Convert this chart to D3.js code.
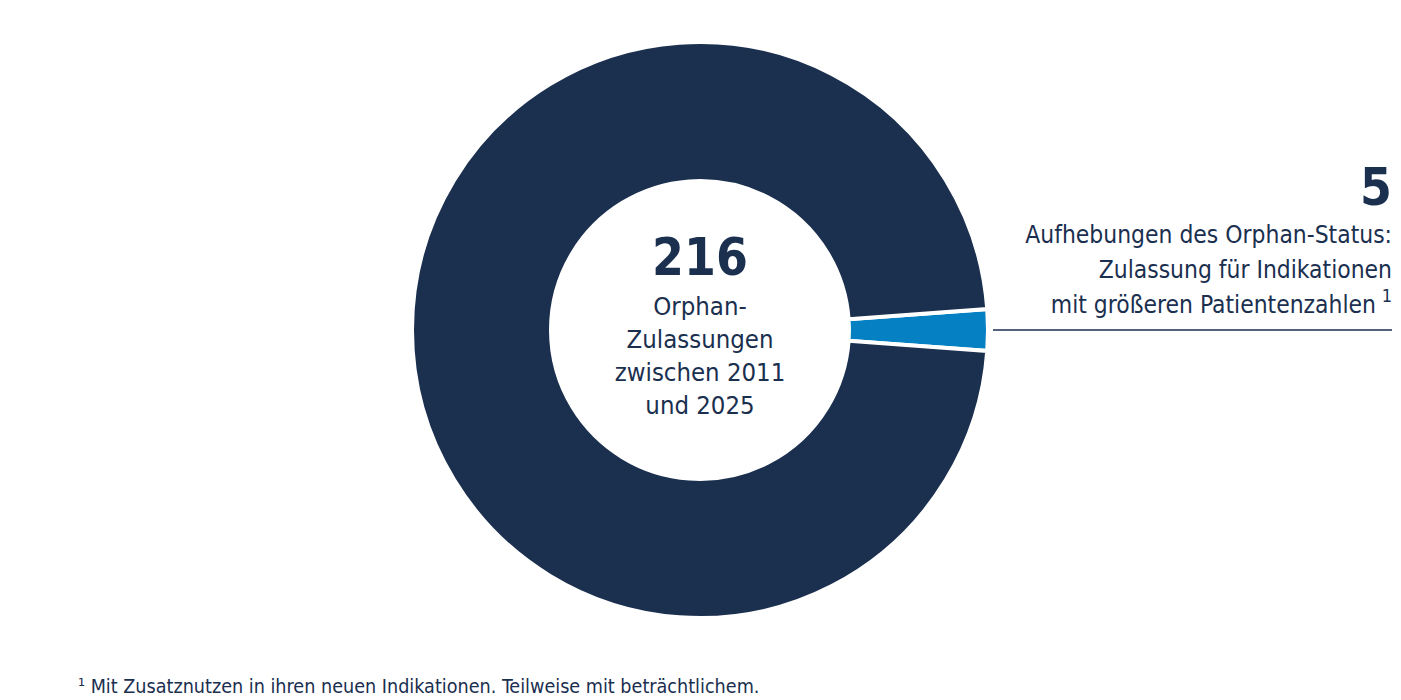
<!DOCTYPE html>
<html>
<head>
<meta charset="utf-8">
<script src="https://cdn.jsdelivr.net/npm/d3@7"></script>
<style>
  body { margin: 0; background: #fff; }
  text { font-family: "DejaVu Sans Condensed", "DejaVu Sans", sans-serif; fill: #1b2f4f; }
</style>
</head>
<body>
<script>
const m = { width: 1401, height: 700 }

// data
const categories = ['Aufhebungen des Orphan-Status', 'Übrige Orphan-Zulassungen']
const values = [5, 211]
const colors = ['#0580c2', '#1b2f4f']
const totalLabel = '216'
const centerLines = ['Orphan-', 'Zulassungen', 'zwischen 2011', 'und 2025']
const sliceValue = '5'
const sliceLines = ['Aufhebungen des Orphan-Status:', 'Zulassung für Indikationen', 'mit größeren Patientenzahlen']
const footnote = '¹ Mit Zusatznutzen in ihren neuen Indikationen. Teilweise mit beträchtlichem.'

const svg = d3.select('body').append('svg')
    .attr('width', m.width)
    .attr('height', m.height)

const cx = 700, cy = 330
const g = svg.append('g').attr('transform', `translate(${cx},${cy})`)

const total = d3.sum(values)
const blueAngle = values[0] / total * 2 * Math.PI

// blue slice centred on 3 o'clock
const pie = d3.pie()
    .sort(null)
    .value(d => d)
    .startAngle(Math.PI / 2 - blueAngle / 2)
    .endAngle(Math.PI / 2 - blueAngle / 2 + 2 * Math.PI)

const arc = d3.arc()
    .innerRadius(149)
    .outerRadius(288)

g.selectAll('path')
  .data(pie(values))
  .enter()
  .append('path')
    .attr('d', arc)
    .attr('fill', (d, i) => colors[i])
    .attr('stroke', '#fff')
    .attr('stroke-width', 4)

// center text
g.append('text')
    .attr('x', 0)
    .attr('y', -55)
    .attr('text-anchor', 'middle')
    .attr('font-size', 51)
    .attr('font-weight', 'bold')
    .text(totalLabel)

g.selectAll('.cline')
  .data(centerLines)
  .enter()
  .append('text')
    .attr('class', 'cline')
    .attr('x', 0)
    .attr('y', (d, i) => -15 + i * 33)
    .attr('text-anchor', 'middle')
    .attr('font-size', 25.5)
    .text(d => d)

// right label
const lx = 1392
svg.append('text')
    .attr('x', lx)
    .attr('y', 205)
    .attr('text-anchor', 'end')
    .attr('font-size', 51)
    .attr('font-weight', 'bold')
    .text(sliceValue)

const lbl = svg.append('g')
lbl.selectAll('text')
  .data(sliceLines)
  .enter()
  .append('text')
    .attr('x', (d, i) => i === 2 ? lx - 16 : lx)
    .attr('y', (d, i) => 243 + i * 35)
    .attr('text-anchor', 'end')
    .attr('font-size', 24.4)
    .text(d => d)

svg.append('text')
    .attr('x', lx)
    .attr('y', 302)
    .attr('text-anchor', 'end')
    .attr('font-size', 18)
    .text('1')

svg.append('line')
    .attr('x1', 993)
    .attr('x2', lx)
    .attr('y1', 330)
    .attr('y2', 330)
    .attr('stroke', '#1b2f4f')
    .attr('stroke-width', 1.5)

svg.append('text')
    .attr('x', 78)
    .attr('y', 693)
    .attr('font-size', 19.6)
    .text(footnote)
</script>
</body>
</html>
